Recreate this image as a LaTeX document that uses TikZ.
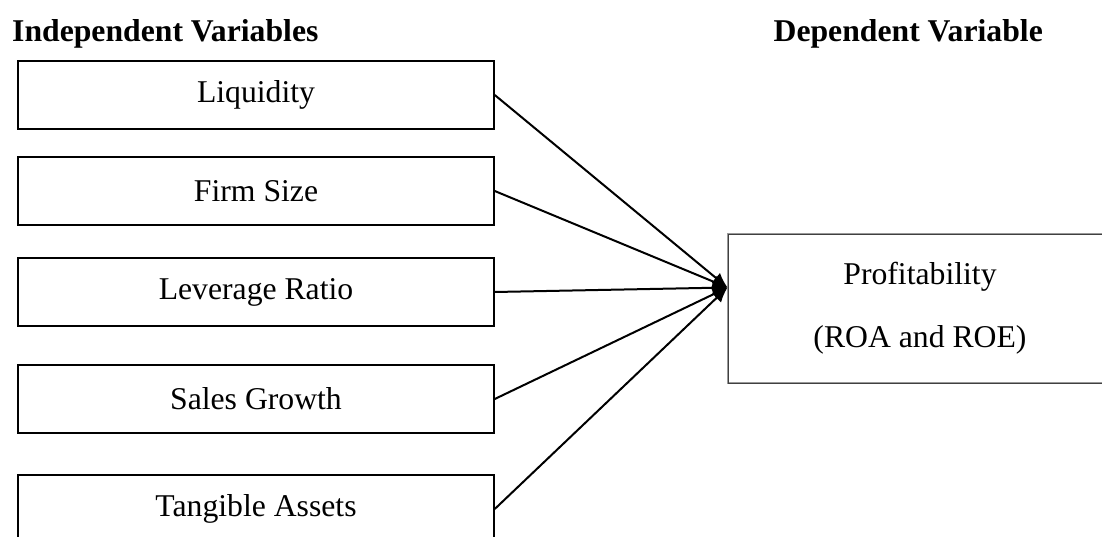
\documentclass[tikz,border=0pt]{standalone}
\usepackage{fontspec}
\setmainfont{Liberation Serif}
\usetikzlibrary{arrows.meta,calc}

\tikzset{
  varbox/.style={draw, line width=1.5pt, minimum width=476pt, minimum height=68pt, inner sep=0pt, font=\fontsize{31.7}{38}\selectfont},
  resultbox/.style={draw=black!40, line width=1pt, double=black!75, double distance=0.9pt, minimum width=384pt, minimum height=149pt, inner sep=0pt, align=center, font=\fontsize{31.7}{63}\selectfont},
  heading/.style={inner sep=0pt, font=\fontsize{31.7}{38}\selectfont\bfseries},
  link/.style={line width=2pt, -{Latex[length=15pt,width=13pt]}}
}

\begin{document}
\begin{tikzpicture}[x=1pt,y=1pt,yscale=-1,xscale=1]
\useasboundingbox (0,0) rectangle (1102,537);
\clip (0,0) rectangle (1102,537);

% Text Node
\node[heading, anchor=base west] (indep) at (12,42) {Independent Variables};
% Text Node
\node[heading, anchor=base east] (dep) at (1043,42) {Dependent Variable};

%Shape: Rectangle
\node[varbox] (liquid) at (256,95) {Liquidity};
%Shape: Rectangle
\node[varbox] (size) at (256,191) {Firm Size};
%Shape: Rectangle
\node[varbox] (lever) at (256,292) {Leverage Ratio};
%Shape: Rectangle
\node[varbox] (sales) at (256,399) {Sales Growth};
%Shape: Rectangle
\node[varbox] (tang) at (256,509) {Tangible Assets};

%Shape: Rectangle
\node[resultbox] (profit) at (920,308.5) {Profitability\\(ROA and ROE)};
\coordinate (hub) at ($(profit.north west)!0.36!(profit.south west)$);

%Straight Lines
\draw[link] (liquid.east) -- (hub);
%Straight Lines
\draw[link] (size.east) -- (hub);
%Straight Lines
\draw[link] (lever.east) -- (hub);
%Straight Lines
\draw[link] (sales.east) -- (hub);
%Straight Lines
\draw[link] (tang.east) -- (hub);

\end{tikzpicture}
\end{document}
